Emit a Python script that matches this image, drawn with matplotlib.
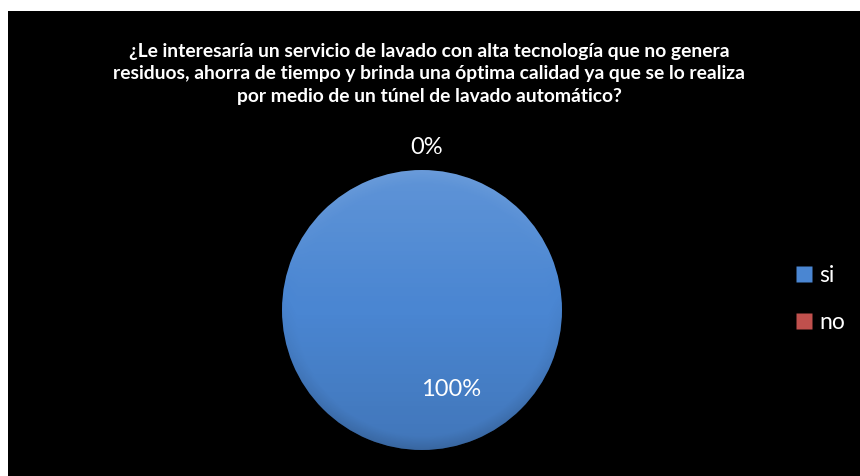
import numpy as np
import matplotlib.pyplot as plt
from matplotlib.lines import Line2D

titulo = ('¿Le interesaría un servicio de lavado con alta tecnología que no genera\n'
          'residuos, ahorra de tiempo y brinda una óptima calidad ya que se lo realiza\n'
          'por medio de un túnel de lavado automático?')
respuestas = ['si', 'no']
porcentajes = [100, 0]
colores = ['#4a86d2', '#c0504d']

W, H = 860, 476
fig = plt.figure(figsize=(W / 100, H / 100), dpi=100, facecolor='white')

# fondo negro del grafico
fondo = fig.add_axes([8 / W, 0, 1 - 8 / W, (H - 11) / H])
fondo.set_facecolor('black')
fondo.set_xticks([])
fondo.set_yticks([])
for s in fondo.spines.values():
    s.set_visible(False)

fig.text(429 / W, 1 - 74 / H, titulo, ha='center', va='center', color='white',
         fontsize=13.9, fontweight='bold', family='Lato', linespacing=1.42)

# pastel
cx, cy, r = 422, 310, 140
ax = fig.add_axes([(cx - r) / W, (H - cy - r) / H, 2 * r / W, 2 * r / H])
ax.set_facecolor('none')
wedges, textos, pct = ax.pie(porcentajes, colors=colores, startangle=90, counterclock=False,
                             autopct=lambda p: f'{p:.0f}%', pctdistance=0.57,
                             labels=['', ''], labeldistance=1.16,
                             textprops=dict(color='white', fontsize=17, family='Lato'),
                             wedgeprops=dict(linewidth=0))
ax.set_xlim(-1, 1)
ax.set_ylim(-1, 1)

# sombreado tipo bisel sobre la porcion azul
n = 400
yy = np.linspace(1, 0, n)[:, None] * np.ones((1, n))
xx = np.linspace(-1, 1, n)[None, :] * np.ones((n, 1))
rr = np.sqrt(xx ** 2 + (yy * 2 - 1) ** 2)
luz = 0.6 * yy + 0.2
borde = np.clip((rr - 0.9) / 0.1, 0, 1)
luz = luz - 0.3 * borde * (1 - yy) + 0.15 * borde * yy
rgba = np.zeros((n, n, 4))
rgba[..., :3] = np.where(luz[..., None] > 0.5, 1.0, 0.0)
rgba[..., 3] = np.abs(luz - 0.5) * 0.4
img = ax.imshow(rgba, extent=[-1, 1, -1, 1], zorder=2)
img.set_clip_path(wedges[0])

# posicion de las etiquetas de porcentaje
pct[0].set_position((0.21, -0.57))
pct[1].set_position((0.03, 1.16))
for t in pct:
    t.set_zorder(3)

handles = [Line2D([], [], marker='s', linestyle='none', markersize=11,
                  markerfacecolor=c, markeredgecolor='none') for c in colores]
fig.legend(handles, respuestas, loc='center left', bbox_to_anchor=(772 / W, 1 - 299 / H),
           frameon=False, labelcolor='white', prop=dict(family='Lato', size=16.5),
           handletextpad=0.15, labelspacing=1.1, handlelength=1.0)

fig.savefig('out.png', dpi=100, facecolor='white')
